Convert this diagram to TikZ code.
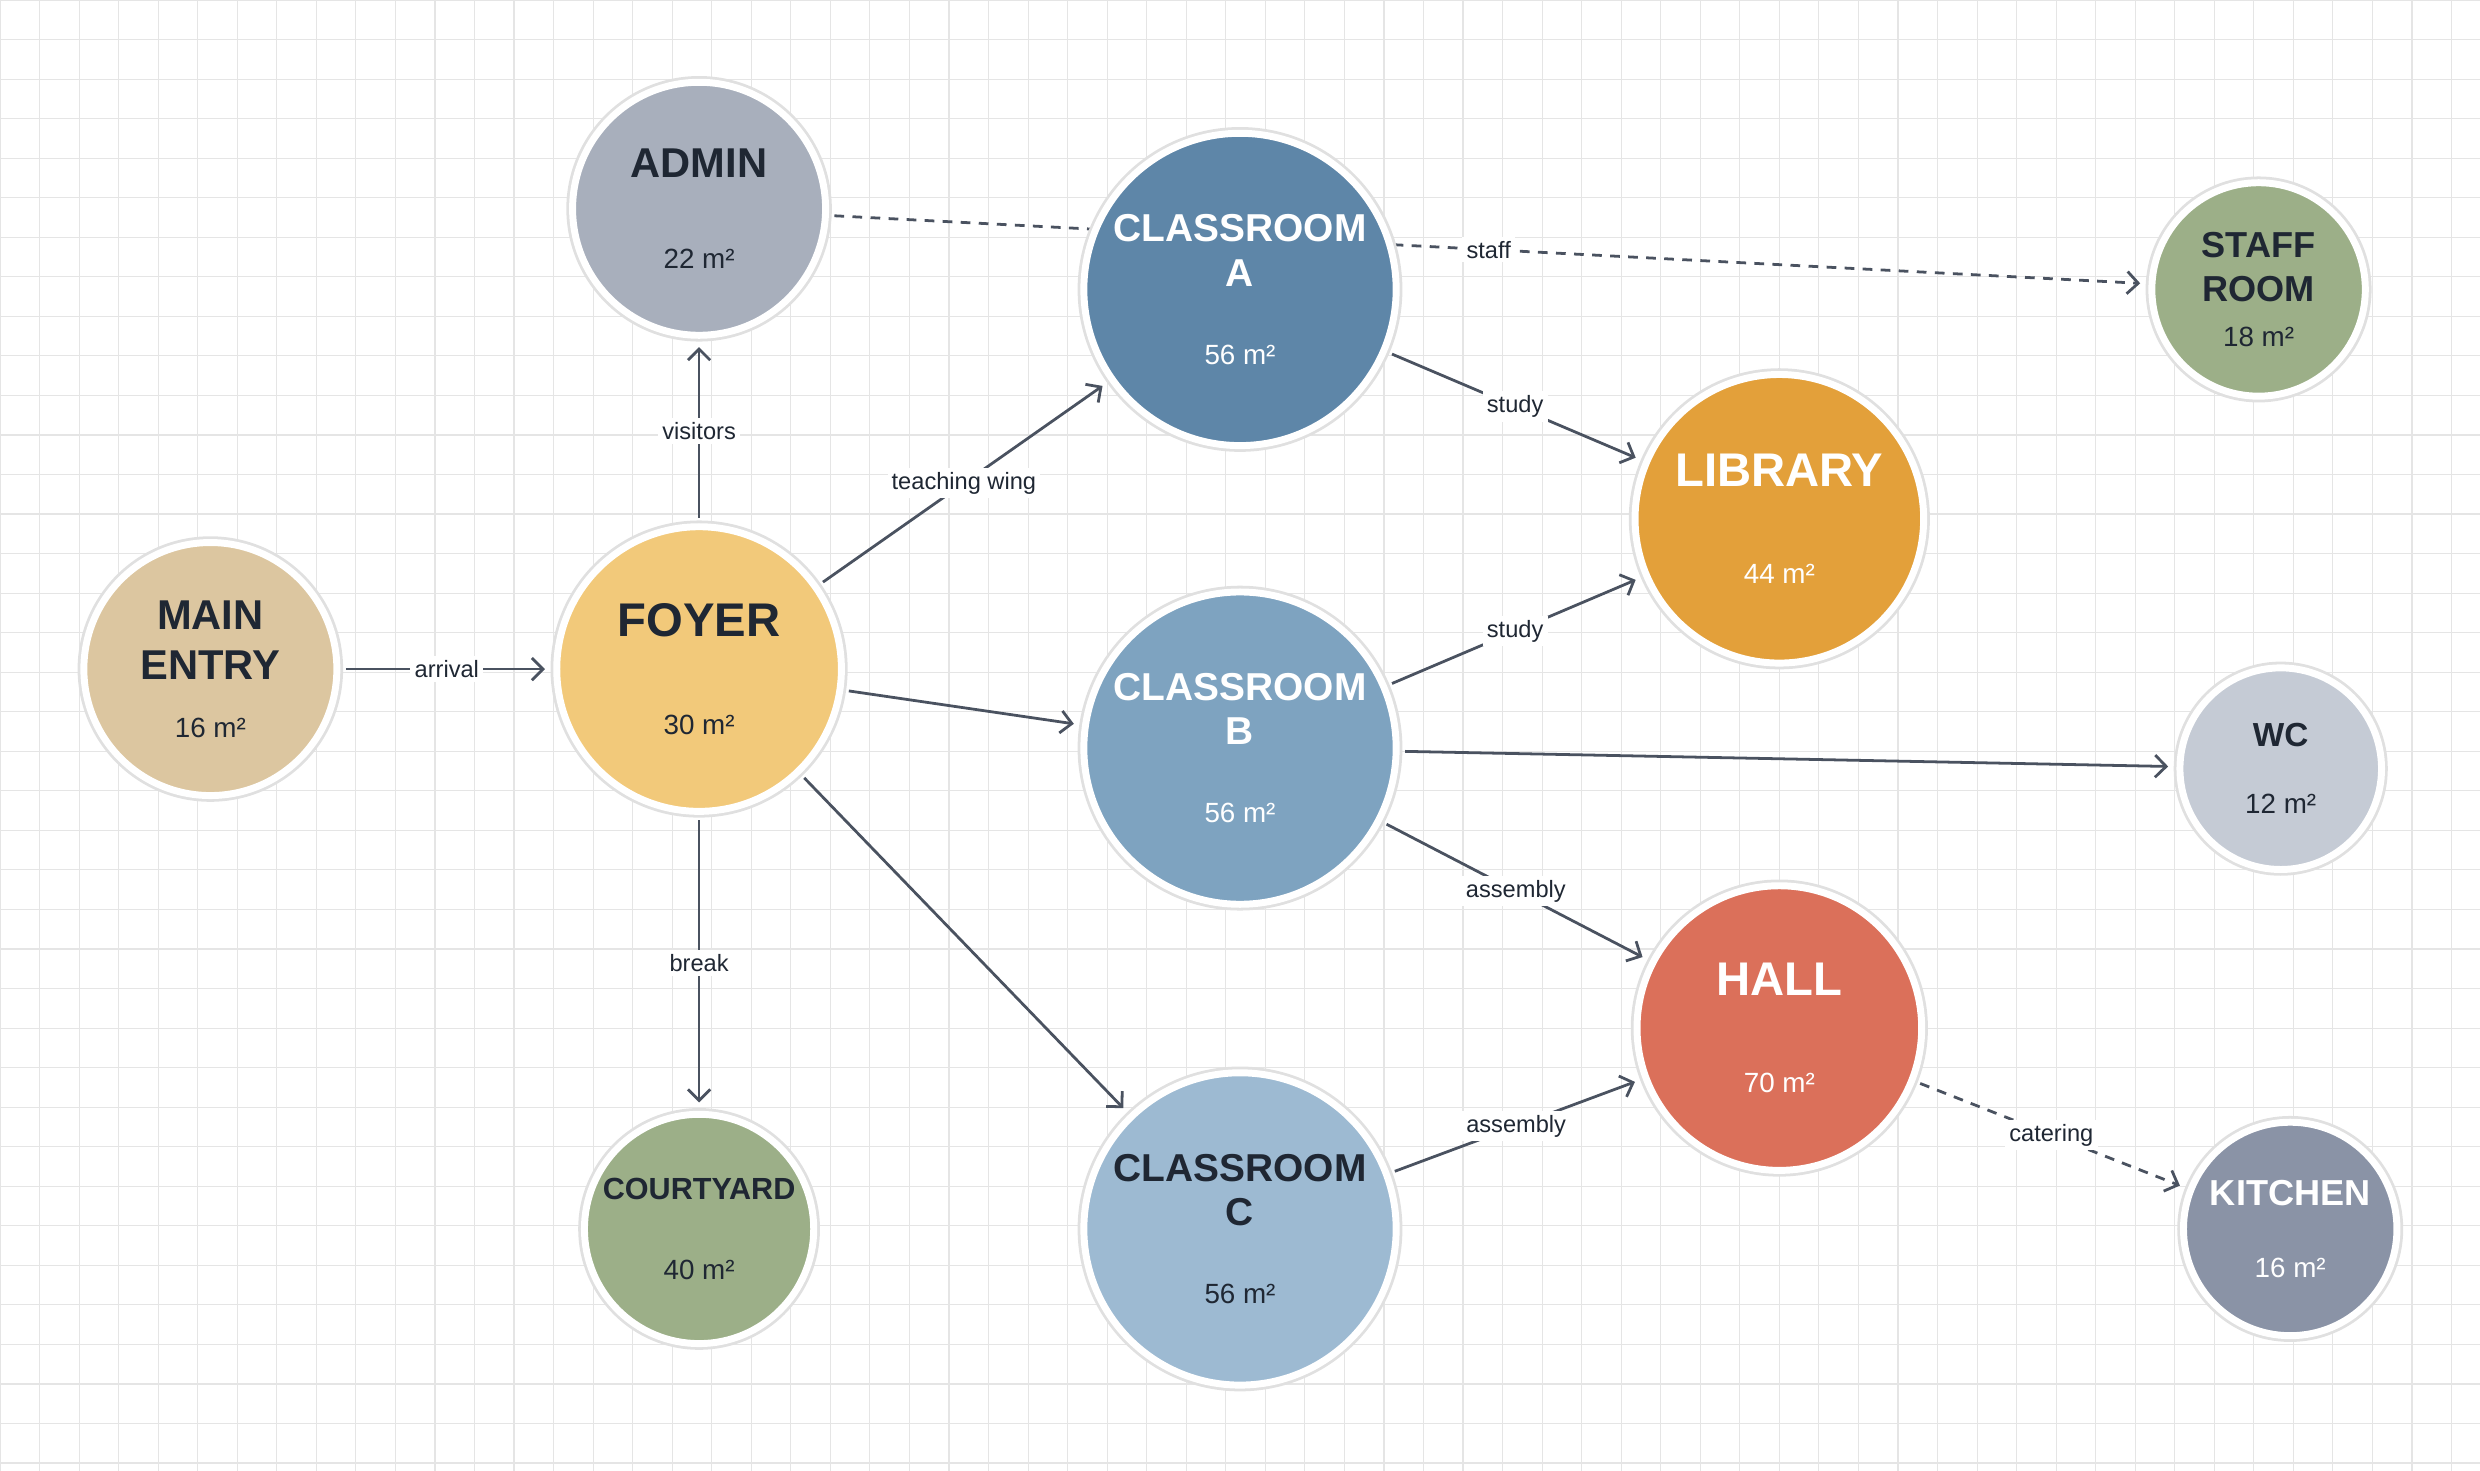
\documentclass[tikz,border=0pt]{standalone}
\usepackage{fontspec}
\setmainfont{Liberation Sans}
\usetikzlibrary{arrows.meta, positioning, backgrounds}
\definecolor{edgecol}{HTML}{4A5260}
\definecolor{darktxt}{HTML}{1F2733}
\definecolor{entrycol}{HTML}{DCC6A0}
\definecolor{foyercol}{HTML}{F2C97A}
\definecolor{admincol}{HTML}{A8AFBC}
\definecolor{greencol}{HTML}{9CAF88}
\definecolor{classacol}{HTML}{5E86A8}
\definecolor{classbcol}{HTML}{7EA3C0}
\definecolor{classccol}{HTML}{9DBAD2}
\definecolor{librarycol}{HTML}{E3A03A}
\definecolor{hallcol}{HTML}{DB705A}
\definecolor{wccol}{HTML}{C5CBD5}
\definecolor{kitchencol}{HTML}{8A93A6}
\tikzstyle{room} = [circle, draw=white, line width=2.5pt, preaction={draw=black!12, line width=4.5pt}, align=center, inner sep=0pt]
\tikzstyle{arrow} = [draw=edgecol, line width=1pt, -{Straight Barb[length=4pt, width=8pt]}, shorten >=3pt, shorten <=2pt]
\tikzstyle{dashedarrow} = [arrow, dash pattern=on 3.5pt off 3pt]
\tikzstyle{lbl} = [fill=white, inner sep=1.5pt, font=\fontsize{8.5}{10}\selectfont, text=darktxt]
\newcommand{\rname}[2]{\fontsize{#1}{#2}\selectfont\bfseries}
\newcommand{\rarea}{\fontsize{10}{12}\selectfont\mdseries}
\begin{document}
\begin{tikzpicture}[x=0.02cm, y=-0.02cm]
	\useasboundingbox (0,0) rectangle (1568,930);
	% rooms
	\node (MainEntry) [room, fill=entrycol, text=darktxt, minimum size=3.2cm, font=\rname{15}{18}] at (133,423) {MAIN\\ENTRY\\[3pt]\rarea 16 m²};
	\node (Foyer) [room, fill=foyercol, text=darktxt, minimum size=3.6cm, font=\rname{17}{20}] at (442,423) {FOYER\\[15pt]\rarea 30 m²};
	\node (Admin) [room, fill=admincol, text=darktxt, minimum size=3.2cm, font=\rname{15}{18}] at (442,132) {ADMIN\\[15pt]\rarea 22 m²};
	\node (Courtyard) [room, fill=greencol, text=darktxt, minimum size=2.9cm, font=\rname{11}{13}] at (442,777) {COURTYARD\\[16pt]\rarea 40 m²};
	\node (ClassA) [room, fill=classacol, text=white, minimum size=3.95cm, font=\rname{14}{16}] at (784,183) {CLASSROOM\\A\\[12pt]\rarea 56 m²};
	\node (ClassB) [room, fill=classbcol, text=white, minimum size=3.95cm, font=\rname{14}{16}] at (784,473) {CLASSROOM\\B\\[12pt]\rarea 56 m²};
	\node (ClassC) [room, fill=classccol, text=darktxt, minimum size=3.95cm, font=\rname{14}{16}] at (784,777) {CLASSROOM\\C\\[12pt]\rarea 56 m²};
	\node (Library) [room, fill=librarycol, text=white, minimum size=3.65cm, font=\rname{17}{20}] at (1125,328) {LIBRARY\\[15pt]\rarea 44 m²};
	\node (Hall) [room, fill=hallcol, text=white, minimum size=3.6cm, font=\rname{17}{20}] at (1125,650) {HALL\\[15pt]\rarea 70 m²};
	\node (StaffRoom) [room, fill=greencol, text=darktxt, minimum size=2.7cm, font=\rname{13}{16}] at (1428,183) {STAFF\\ROOM\\[0pt]\rarea 18 m²};
	\node (WC) [room, fill=wccol, text=darktxt, minimum size=2.55cm, font=\rname{12}{14}] at (1442,486) {WC\\[10pt]\rarea 12 m²};
	\node (Kitchen) [room, fill=kitchencol, text=white, minimum size=2.7cm, font=\rname{13}{16}] at (1448,777) {KITCHEN\\[10pt]\rarea 16 m²};
	\begin{scope}[on background layer]
		% grid
		\foreach \gx in {0,25,...,1568} \draw[black!10, line width=0.4pt] (\gx,0) -- (\gx,930);
		\foreach \gy in {0,25,...,930} \draw[black!10, line width=0.4pt] (0,\gy) -- (1568,\gy);
		% connectors
		\draw [arrow] (MainEntry) -- node[lbl]{arrival} (Foyer);
		\draw [arrow] (Foyer) -- node[lbl]{visitors} (Admin);
		\draw [arrow] (Foyer) -- node[lbl]{teaching wing} (ClassA);
		\draw [arrow] (Foyer) -- (ClassB);
		\draw [arrow] (Foyer) -- (ClassC);
		\draw [arrow] (Foyer) -- node[lbl]{break} (Courtyard);
		\draw [dashedarrow] (Admin) -- node[lbl, pos=0.5]{staff} (StaffRoom);
		\draw [arrow] (ClassA) -- node[lbl]{study} (Library);
		\draw [arrow] (ClassB) -- node[lbl]{study} (Library);
		\draw [arrow] (ClassB) -- (WC);
		\draw [arrow] (ClassB) -- node[lbl]{assembly} (Hall);
		\draw [arrow] (ClassC) -- node[lbl]{assembly} (Hall);
		\draw [dashedarrow] (Hall) -- node[lbl]{catering} (Kitchen);
	\end{scope}
\end{tikzpicture}
\end{document}
